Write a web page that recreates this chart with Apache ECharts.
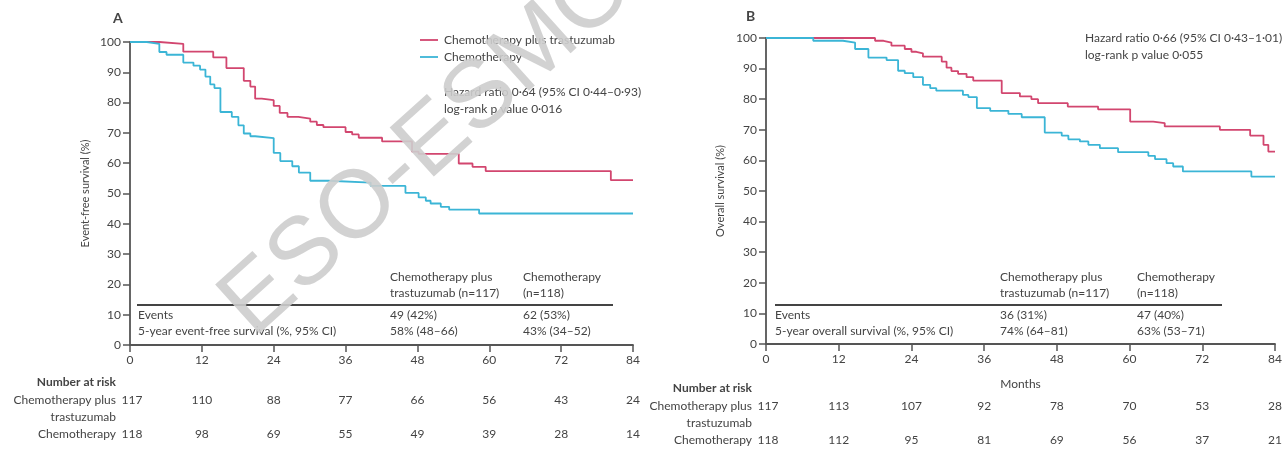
<!DOCTYPE html>
<html>
<head>
<meta charset="utf-8">
<script src="https://cdn.jsdelivr.net/npm/echarts@6/dist/echarts.min.js"></script>
<style>
  html, body { margin: 0; padding: 0; background: #fff; }
  #chart { width: 1287px; height: 454px; }
</style>
</head>
<body>
<div id="chart"></div>
<script>
// months on the x axis
const monthTicks = [0, 12, 24, 36, 48, 60, 72, 84]

// A: event-free survival, [month, %] at each step
const efsTrastuzumab = [
  [0, 100], [4.9, 99.4], [8.9, 96.8], [13.9, 94.9], [16.1, 91.4], [19, 87.2], [20.1, 85.3],
  [20.9, 81.3], [22, 80.8], [24, 78.9], [25, 76.6], [26.3, 75.3], [28.1, 74.7], [30.1, 73.7],
  [31.2, 72.6], [32.3, 71.9], [36, 70.3], [37.1, 69.5], [38.2, 68.4], [42.1, 67.2],
  [47.1, 63.8], [48.2, 63.1], [54.9, 59.9], [57.2, 58.8], [59.4, 57.4], [80.3, 54.4], [84, 54.4]
]
const efsChemo = [
  [0, 100], [2.8, 99.4], [4.9, 96.7], [6.1, 95.8], [8.9, 93.2], [10.6, 92.2], [11.7, 90.9],
  [12.6, 88.6], [13.4, 86], [14.1, 84.8], [15.1, 76.9], [17, 75.3], [18.1, 72.5], [19, 69.8],
  [20.1, 68.9], [20.9, 68.3], [24, 63.4], [25.1, 60.7], [27.1, 59], [28.2, 56.9], [30.1, 54.2],
  [33.2, 53.6], [40.2, 52.5], [46, 50.2], [48.2, 48.7], [49.4, 47.6], [50.2, 46.7], [51.9, 45.6],
  [53.3, 44.7], [58.3, 43.4], [84, 43.4]
]

// B: overall survival, [month, %] at each step
const osTrastuzumab = [
  [0, 100], [18, 99.1], [19.4, 98.5], [20.7, 97.5], [22.9, 96.4], [24, 95.5], [24.8, 95],
  [25.9, 93.9], [29, 92.3], [29.8, 90.3], [30.6, 89.2], [31.7, 88.3], [33.1, 87.2], [34.2, 86.1],
  [38.9, 82], [41.9, 80.9], [43.8, 80], [44.9, 78.7], [49.8, 77.6], [54.8, 76.7], [60.1, 72.7],
  [63.9, 72.2], [65.8, 71.1], [74.9, 70], [79.9, 68.1], [82.1, 65.1], [82.9, 62.9], [84, 62.9]
]
const osChemo = [
  [0, 100], [7.8, 99.1], [12.7, 98.5], [14.7, 96.4], [16.9, 93.6], [19.9, 92.8], [21.8, 89.3],
  [22.9, 88.5], [24.3, 87.2], [25.9, 84.7], [27.1, 83.6], [28.1, 82.8], [32.5, 81.4],
  [33.4, 80.7], [34.8, 77.1], [37, 76.2], [40, 75.2], [42.2, 74.1], [46, 69.1], [48.8, 68.1],
  [49.9, 66.9], [51.8, 66.2], [53.2, 65.1], [55.1, 64], [58.1, 62.7], [63.1, 61.5], [64.2, 60.4],
  [66.1, 59.1], [67.2, 58], [68.8, 56.4], [80.1, 54.7], [84, 54.7]
]

// number at risk, one value per month tick
const riskEfsTrastuzumab = [117, 110, 88, 77, 66, 56, 43, 24]
const riskEfsChemo = [118, 98, 69, 55, 49, 39, 28, 14]
const riskOsTrastuzumab = [117, 113, 107, 92, 78, 70, 53, 28]
const riskOsChemo = [118, 112, 95, 81, 69, 56, 37, 21]

const RED = '#d2466f'
const BLUE = '#3bb5d6'
const AXIS = '#555'
const TEXT = '#444'
const FONT = 'Lato'

const chart = echarts.init(document.getElementById('chart'))

const axisCommon = {
  axisLine: { lineStyle: { color: AXIS, width: 1.8 } },
  axisTick: { length: 7, lineStyle: { color: AXIS, width: 1.5 } },
  splitLine: { show: false },
}

const xAxis = (gridIndex, name) => ({
  ...axisCommon,
  gridIndex,
  type: 'value',
  min: 0,
  max: 84,
  interval: 12,
  name,
  nameLocation: 'middle',
  nameGap: 34,
  nameTextStyle: { color: TEXT, fontFamily: FONT, fontSize: 12 },
  axisLabel: { color: TEXT, fontFamily: FONT, fontSize: 12, margin: 9 },
})

const yAxis = (gridIndex, name, gap) => ({
  ...axisCommon,
  gridIndex,
  type: 'value',
  min: 0,
  max: 100,
  interval: 10,
  name,
  nameLocation: 'middle',
  nameGap: gap,
  nameTextStyle: { color: TEXT, fontFamily: FONT, fontSize: 11 },
  axisLabel: { color: TEXT, fontFamily: FONT, fontSize: 12, margin: 9 },
})

const step = (idx, data, color) => ({
  type: 'line',
  step: 'end',
  xAxisIndex: idx,
  yAxisIndex: idx,
  data,
  symbol: 'none',
  lineStyle: { color, width: 1.8 },
  silent: true,
})

chart.setOption({
  backgroundColor: '#fff',
  animation: false,
  grid: [
    { left: 130, top: 42, width: 503, height: 303, containLabel: false },
    { left: 766, top: 38, width: 509, height: 306, containLabel: false },
  ],
  xAxis: [xAxis(0, ''), xAxis(1, 'Months')],
  yAxis: [yAxis(0, 'Event-free survival (%)', 39), yAxis(1, 'Overall survival (%)', 40)],
  series: [
    step(0, efsTrastuzumab, RED),
    step(0, efsChemo, BLUE),
    step(1, osTrastuzumab, RED),
    step(1, osChemo, BLUE),
  ],
})

const T = (x, y, text, opts = {}) => ({
  type: 'text',
  silent: true,
  z: 50,
  style: {
    x,
    y,
    text,
    fill: TEXT,
    font: (opts.bold ? 'bold ' : '') + (opts.size || 12) + 'px ' + FONT,
    textAlign: opts.align || 'left',
    textVerticalAlign: 'middle',
  },
})

const L = (x1, y1, x2, y2, color, width) => ({
  type: 'line',
  silent: true,
  z: 50,
  shape: { x1, y1, x2, y2 },
  style: { stroke: color, lineWidth: width },
})

const elements = []

// panel A annotations
elements.push(T(113, 18, 'A', { bold: true, size: 14 }))
elements.push(L(420, 40, 438, 40, RED, 1.8))
elements.push(T(444, 40, 'Chemotherapy plus trastuzumab'))
elements.push(L(420, 57, 438, 57, BLUE, 1.8))
elements.push(T(444, 57, 'Chemotherapy'))
elements.push(T(444, 92, 'Hazard ratio 0·64 (95% CI 0·44–0·93)'))
elements.push(T(444, 109, 'log-rank p value 0·016'))
elements.push(T(390, 277, 'Chemotherapy plus'))
elements.push(T(390, 293, 'trastuzumab (n=117)'))
elements.push(T(523, 277, 'Chemotherapy'))
elements.push(T(523, 293, '(n=118)'))
elements.push(L(137, 305, 613, 305, '#444', 2))
elements.push(T(138, 315, 'Events'))
elements.push(T(390, 315, '49 (42%)'))
elements.push(T(523, 315, '62 (53%)'))
elements.push(T(138, 331, '5-year event-free survival (%, 95% CI)'))
elements.push(T(390, 331, '58% (48–66)'))
elements.push(T(523, 331, '43% (34–52)'))
elements.push(T(116, 382, 'Number at risk', { bold: true, align: 'right' }))
elements.push(T(116, 400, 'Chemotherapy plus', { align: 'right' }))
elements.push(T(116, 417, 'trastuzumab', { align: 'right' }))
elements.push(T(116, 434, 'Chemotherapy', { align: 'right' }))

// panel B annotations
elements.push(T(746, 16, 'B', { bold: true, size: 14 }))
elements.push(T(1085, 38, 'Hazard ratio 0·66 (95% CI 0·43–1·01)'))
elements.push(T(1085, 55, 'log-rank p value 0·055'))
elements.push(T(1000, 277, 'Chemotherapy plus'))
elements.push(T(1000, 293, 'trastuzumab (n=117)'))
elements.push(T(1137, 277, 'Chemotherapy'))
elements.push(T(1137, 293, '(n=118)'))
elements.push(L(775, 305, 1222, 305, '#444', 2))
elements.push(T(775, 315, 'Events'))
elements.push(T(1000, 315, '36 (31%)'))
elements.push(T(1137, 315, '47 (40%)'))
elements.push(T(775, 331, '5-year overall survival (%, 95% CI)'))
elements.push(T(1000, 331, '74% (64–81)'))
elements.push(T(1137, 331, '63% (53–71)'))
elements.push(T(752, 388, 'Number at risk', { bold: true, align: 'right' }))
elements.push(T(752, 406, 'Chemotherapy plus', { align: 'right' }))
elements.push(T(752, 423, 'trastuzumab', { align: 'right' }))
elements.push(T(752, 440, 'Chemotherapy', { align: 'right' }))

// number at risk, placed under the month ticks of each axis
const riskRow = (axisIndex, values, y) => {
  values.forEach((v, i) => {
    const x = chart.convertToPixel({ xAxisIndex: axisIndex }, monthTicks[i])
    elements.push(T(x + (i === 0 ? 2 : 0), y, String(v), { align: 'center' }))
  })
}
riskRow(0, riskEfsTrastuzumab, 400)
riskRow(0, riskEfsChemo, 434)
riskRow(1, riskOsTrastuzumab, 406)
riskRow(1, riskOsChemo, 440)

// watermark sits over everything
elements.push({
  type: 'text',
  silent: true,
  z: 100,
  x: 428,
  y: 146,
  rotation: (42 * Math.PI) / 180,
  style: {
    text: 'ESO-ESMO',
    fill: 'rgba(205, 205, 205, 0.9)',
    font: '96px "Liberation Sans"',
    textAlign: 'center',
    textVerticalAlign: 'middle',
  },
})

chart.setOption({ graphic: { elements } })

window.addEventListener('resize', () => {
  chart.resize()
})
</script>
</body>
</html>
